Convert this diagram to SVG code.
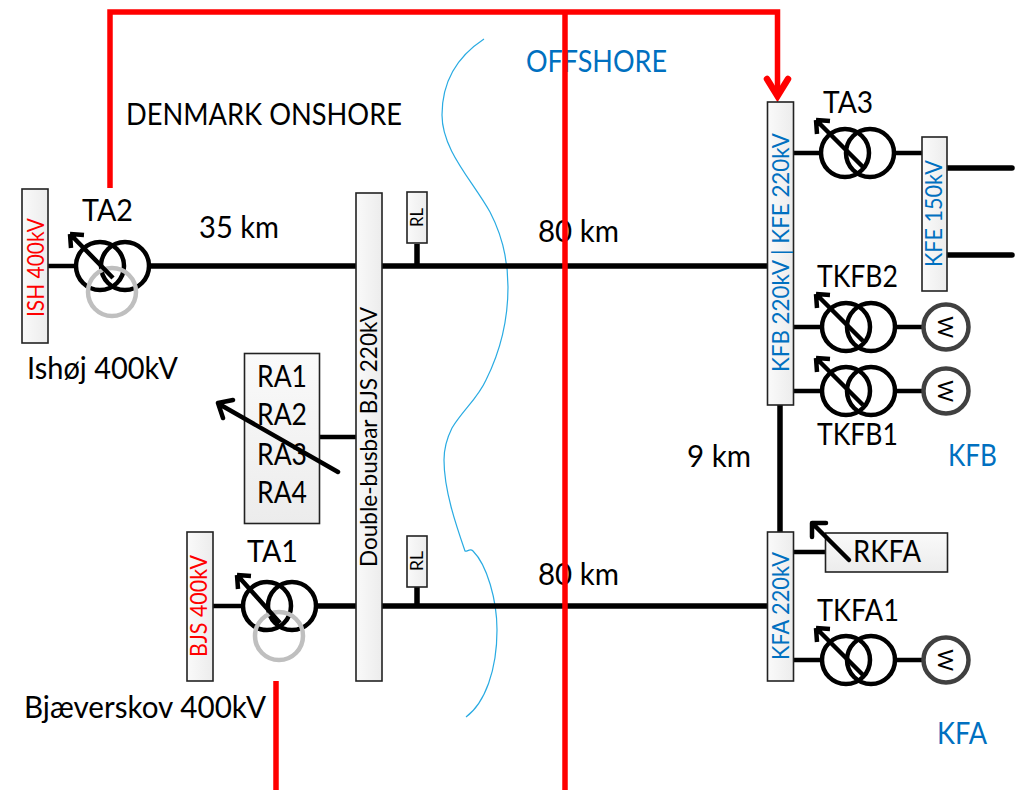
<svg xmlns="http://www.w3.org/2000/svg" width="1016" height="790" viewBox="0 0 1016 790">
<style>
text{font-family:Lato,"Open Sans","Liberation Sans",sans-serif;fill:#000;font-size:30px}
.bl{fill:#0070C0}.rd{fill:#f00}
.v{font-size:24px}.s{font-size:17px}.wt{font-size:21px}
.box{stroke:#222;stroke-width:1.6}
.w1{fill:url(#gh)}.w2{fill:url(#gv)}
.wire{stroke:#000;stroke-width:4.5;fill:none}
.bus{stroke:#000;stroke-width:5.500;fill:none}
.red{stroke:#f00;stroke-width:5.500;fill:none}
.c{fill:none;stroke:#000;stroke-width:4.500}
.g{fill:none;stroke:#bfbfbf;stroke-width:4.500}
.gen{fill:#fff;stroke:#404040;stroke-width:4.500}
.arr{fill:none;stroke:#000;stroke-width:4.500}
</style>
<defs>
<linearGradient id="gh" x1="0" x2="1" y1="0" y2="0"><stop offset="0" stop-color="#fafafa"/><stop offset="1" stop-color="#ececec"/></linearGradient>
<linearGradient id="gv" x1="0" x2="0" y1="0" y2="1"><stop offset="0" stop-color="#fafafa"/><stop offset="1" stop-color="#ececec"/></linearGradient>
</defs>
<path d="M484 39C455 58 442 85 442 115C442 150 472 180 490 212C502 235 508 262 508 287C508 320 500 352 486 380C478 398 463 410 452 428C447 438 444 448 444 460C444 490 456 525 465 551C467 552 470 548 473 551C487 565 497 600 497 630C497 670 485 703 466 717" fill="none" stroke="#29ABE2" stroke-width="1.2"/>
<g id="connectors">
<path class="wire" d="M48 266H76M320 437H357M242 606H213M793 153H822M894 153H922M793 327H822M895 327H925M793 391H822M895 391H925M793 552H826M793 660H822M895 660H925"/>
<path class="bus" d="M150 266H356M382 266H767M316 606H356M382 606H767M417 244V266M417 587V606M780 405V533" />
<path class="bus" stroke-linecap="round" d="M947 168H1012M947 255H1012"/>
<path class="red" d="M110 188V12H777.500V90M276 681V790"/>
<path d="M767 79L777.500 96L788 79" fill="none" stroke="#f00" stroke-width="6.500" stroke-linecap="round"/>
</g>
<g id="ISH"><rect class="box w1" x="22" y="189" width="26" height="154"/><text class="v rd" transform="translate(44 317) rotate(-90)" textLength="99" lengthAdjust="spacingAndGlyphs">ISH 400kV</text></g>
<g id="BJS400"><rect class="box w1" x="187" y="532" width="26" height="149"/><text class="v rd" transform="translate(207 657) rotate(-90)" textLength="102" lengthAdjust="spacingAndGlyphs">BJS 400kV</text></g>
<g id="BJS220"><rect class="box w1" x="356" y="193" width="26" height="488"/><text class="v" transform="translate(377 567) rotate(-90)" textLength="260" lengthAdjust="spacingAndGlyphs">Double-busbar BJS 220kV</text></g>
<g id="RL1"><rect class="box w1" x="407" y="192" width="20" height="51"/><text class="s" transform="translate(423 227) rotate(-90)" textLength="19" lengthAdjust="spacingAndGlyphs">RL</text></g>
<g id="RL2"><rect class="box w1" x="407" y="536" width="20" height="51"/><text class="s" transform="translate(423 571) rotate(-90)" textLength="20" lengthAdjust="spacingAndGlyphs">RL</text></g>
<g id="RA"><rect class="box w2" x="244.500" y="353.500" width="75" height="170"/>
<text x="257" y="387" textLength="50" lengthAdjust="spacingAndGlyphs">RA1</text><text x="257" y="425" textLength="50" lengthAdjust="spacingAndGlyphs">RA2</text><text x="257" y="465" textLength="50" lengthAdjust="spacingAndGlyphs">RA3</text><text x="257" y="503" textLength="50" lengthAdjust="spacingAndGlyphs">RA4</text>
<path class="arr" d="M338 472L219 404M218 403L233 400M218 403L223 418" stroke-linecap="round"/></g>
<g id="KFB"><rect class="box w1" x="767.500" y="102" width="26" height="303"/><text class="v bl" transform="translate(789 372) rotate(-90)" textLength="239" lengthAdjust="spacingAndGlyphs">KFB 220kV | KFE 220kV</text></g>
<g id="KFE"><rect class="box w1" x="922" y="137" width="25" height="154"/><text class="v bl" transform="translate(942 267) rotate(-90)" textLength="107" lengthAdjust="spacingAndGlyphs">KFE 150kV</text></g>
<g id="KFA"><rect class="box w1" x="767.500" y="532" width="26" height="149"/><text class="v bl" transform="translate(789 660) rotate(-90)" textLength="108" lengthAdjust="spacingAndGlyphs">KFA 220kV</text></g>
<g id="RKFA"><rect class="box w2" x="825.500" y="533" width="122" height="39"/><text x="853" y="562" textLength="68" lengthAdjust="spacingAndGlyphs">RKFA</text>
<path class="arr" d="M849 560L813 524M812 523L826 523M812 523L812 537" stroke-linecap="round"/></g>
<g id="TA2"><circle class="c" cx="100" cy="266" r="24"/><circle class="c" cx="125" cy="266" r="24"/><circle class="g" cx="112" cy="292" r="24"/>
<path class="arr" d="M113 278L71 235M70 234L84 235M70 234L71 248"/><text x="82" y="221" textLength="51" lengthAdjust="spacingAndGlyphs">TA2</text></g>
<g id="TA1"><circle class="c" cx="267" cy="606" r="24"/><circle class="c" cx="292" cy="606" r="24"/><circle class="g" cx="279" cy="636" r="24"/>
<path class="arr" d="M280 623L238 576M237 575L251 576M237 575L238 589"/><text x="247" y="562" textLength="51" lengthAdjust="spacingAndGlyphs">TA1</text></g>
<g id="TA3"><circle class="c" cx="845" cy="153" r="24"/><circle class="c" cx="870" cy="153" r="24"/>
<path class="arr" d="M863 167L817 121M816 120L830 121M816 120L817 134"/><text x="823" y="113" textLength="50" lengthAdjust="spacingAndGlyphs">TA3</text></g>
<g id="TKFB2"><circle class="c" cx="846" cy="327" r="24"/><circle class="c" cx="871" cy="327" r="24"/>
<path class="arr" d="M863 341L817 295M816 294L830 295M816 294L817 308"/><text x="817" y="287" textLength="81" lengthAdjust="spacingAndGlyphs">TKFB2</text></g>
<g id="TKFB1"><circle class="c" cx="846" cy="391" r="24"/><circle class="c" cx="871" cy="391" r="24"/>
<path class="arr" d="M863 405L817 359M816 358L830 359M816 358L817 372"/><text x="817" y="445" textLength="81" lengthAdjust="spacingAndGlyphs">TKFB1</text></g>
<g id="TKFA1"><circle class="c" cx="846" cy="660" r="24"/><circle class="c" cx="871" cy="660" r="24"/>
<path class="arr" d="M863 675L817 629M816 628L830 629M816 628L817 642"/><text x="817" y="621" textLength="82" lengthAdjust="spacingAndGlyphs">TKFA1</text></g>
<g id="W1"><circle class="gen" cx="946" cy="327" r="22.500"/><text class="wt" transform="translate(938 327) rotate(90)" text-anchor="middle">W</text></g>
<g id="W2"><circle class="gen" cx="946" cy="391" r="22.500"/><text class="wt" transform="translate(938 391) rotate(90)" text-anchor="middle">W</text></g>
<g id="W3"><circle class="gen" cx="946" cy="660" r="22.500"/><text class="wt" transform="translate(938 660) rotate(90)" text-anchor="middle">W</text></g>
<g id="labels">
<text x="126" y="125" textLength="276" lengthAdjust="spacingAndGlyphs">DENMARK ONSHORE</text>
<text class="bl" x="526" y="72" textLength="141" lengthAdjust="spacingAndGlyphs">OFFSHORE</text>
<text x="199" y="238" textLength="80" lengthAdjust="spacingAndGlyphs">35 km</text>
<text x="538" y="242" textLength="81" lengthAdjust="spacingAndGlyphs">80 km</text>
<text x="538" y="585" textLength="81" lengthAdjust="spacingAndGlyphs">80 km</text>
<text x="27" y="379" textLength="151" lengthAdjust="spacingAndGlyphs">Ishøj 400kV</text>
<text x="24" y="718" textLength="242" lengthAdjust="spacingAndGlyphs">Bjæverskov 400kV</text>
<text x="687" y="467" textLength="64" lengthAdjust="spacingAndGlyphs">9 km</text>
<text class="bl" x="948" y="466" textLength="49" lengthAdjust="spacingAndGlyphs">KFB</text>
<text class="bl" x="937" y="744" textLength="50" lengthAdjust="spacingAndGlyphs">KFA</text>
</g>
<path class="red" d="M565 12V790" id="red-over"/>
</svg>
